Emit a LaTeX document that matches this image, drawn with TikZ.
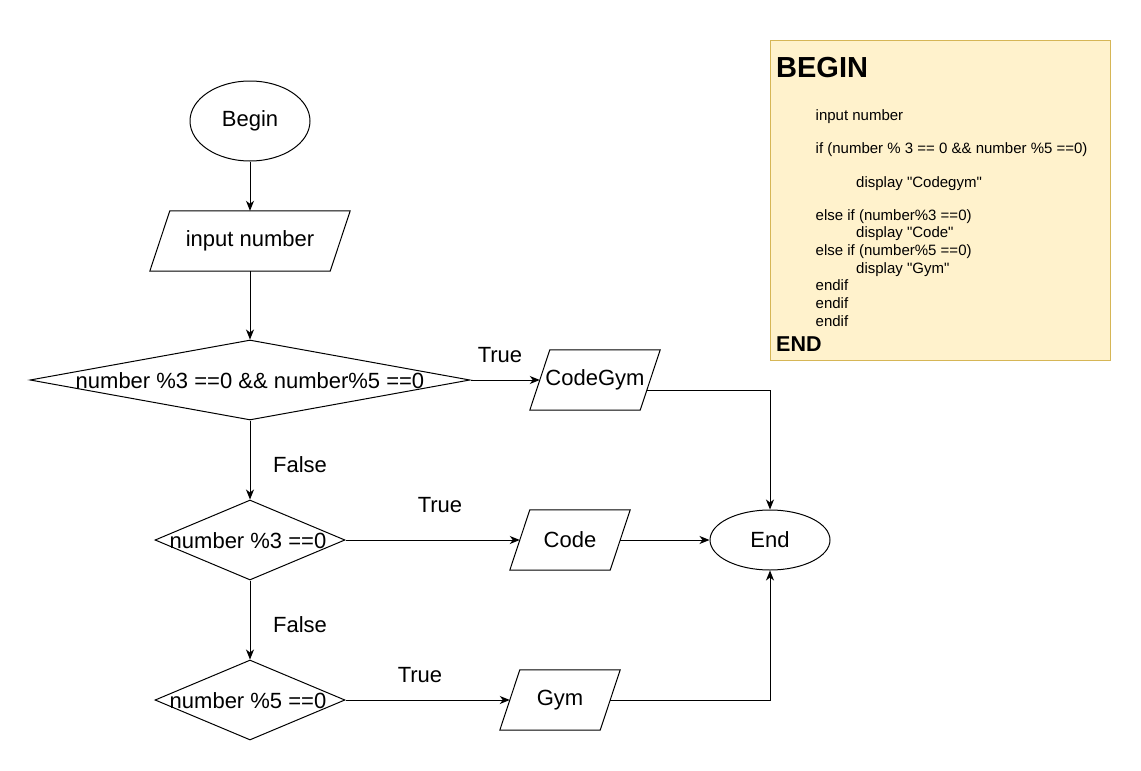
\documentclass[tikz,border=0pt]{standalone}
\usepackage{fontspec}
\setmainfont{Liberation Sans}
\newfontfamily\codefont[Ligatures=TeXOff]{Liberation Sans}
\usetikzlibrary{shapes.geometric,arrows.meta,calc}
\definecolor{noteFill}{HTML}{FFF2CC}
\definecolor{noteDraw}{HTML}{D6B656}
\newcommand\drawpara[1]{\draw[line] ($(#1.south west)+(-10,0)$) -- ($(#1.north west)+(10,0)$) -- ($(#1.north east)+(10,0)$) -- ($(#1.south east)+(-10,0)$) -- cycle;}
\begin{document}
\begin{tikzpicture}[x=1pt,y=-1pt,
  every node/.style={inner sep=0pt, font=\fontsize{22}{26}\selectfont},
  line/.style={line width=1pt, draw=black},
  arr/.style={line, -{Stealth[length=10pt,width=8pt,inset=3pt]}},
  term/.style={ellipse, draw, line width=1pt, minimum width=120pt},
  iobox/.style={minimum height=60pt},
  dec/.style={diamond, draw, line width=1pt, minimum width=#1, minimum height=80pt},
  codeline/.style={anchor=base west, font=\codefont\fontsize{15}{18}\selectfont},
]
\fill[white] (0,0) rectangle (1141,771);
\useasboundingbox (0,0) rectangle (1141,771);

% flowchart nodes
\node[term, minimum height=80pt] (begin) at (250,121) {Begin};
\node[iobox, minimum width=180pt] (input) at (250,241) {input number};
\drawpara{input}
\node[dec=440pt] (d1) at (250,380) {};
\node (d1t) at (250,381) {number \%3 ==0 \&\& number\%5 ==0};
\node[iobox, minimum width=110pt] (cg) at (595,380) {CodeGym};
\drawpara{cg}
\node[dec=190pt] (d2) at (250,540) {};
\node (d2t) at (248,541) {number \%3 ==0};
\node[iobox, minimum width=100pt] (code) at (570,540) {Code};
\drawpara{code}
\node[term, minimum height=60pt] (end) at (770,540) {End};
\node[dec=190pt] (d3) at (250,700) {};
\node (d3t) at (248,701) {number \%5 ==0};
\node[iobox, minimum width=100pt] (gym) at (560,700) {Gym};
\drawpara{gym}

% connectors
\draw[arr] (begin) -- (input);
\draw[arr] (input) -- (d1);
\draw[arr] (d1.east) -- (cg.west);
\draw[arr] ($(cg.east)+(-3,10)$) -| (end.north);
\draw[arr] (d1.south) -- (d2.north);
\draw[arr] (d2.east) -- (code.west);
\draw[arr] (code.east) -- (end.west);
\draw[arr] (d2.south) -- (d3.north);
\draw[arr] (d3.east) -- (gym.west);
\draw[arr] (gym.east) -| (end.south);

% labels
\node (l1) at (500,355) {True};
\node (l2) at (300,465) {False};
\node (l3) at (440,505) {True};
\node (l4) at (300,625) {False};
\node (l5) at (420,675) {True};

% note
\node[draw=noteDraw, fill=noteFill, line width=1pt, minimum width=340pt, minimum height=320pt, anchor=north west] (note) at (770,40) {};
\node[anchor=base west, font=\fontsize{29}{34}\selectfont\bfseries] (nbeg) at (776,77.7) {BEGIN};
\node[codeline] (c1) at (815.5,120.3) {input number};
\node[codeline] (c2) at (815.5,153.5) {if (number \% 3 == 0 \&\& number \%5 ==0)};
\node[codeline] (c3) at (856,187) {display "Codegym"};
\node[codeline] (c4) at (815.5,220) {else if (number\%3 ==0)};
\node[codeline] (c5) at (856,237.5) {display "Code"};
\node[codeline] (c6) at (815.5,255) {else if (number\%5 ==0)};
\node[codeline] (c7) at (856,273) {display "Gym"};
\node[codeline] (c8) at (815.5,290.5) {endif};
\node[codeline] (c9) at (815.5,308) {endif};
\node[codeline] (c10) at (815.5,326) {endif};
\node[anchor=base west, font=\fontsize{21.5}{26}\selectfont\bfseries] (nend) at (776,351) {END};
\end{tikzpicture}
\end{document}
